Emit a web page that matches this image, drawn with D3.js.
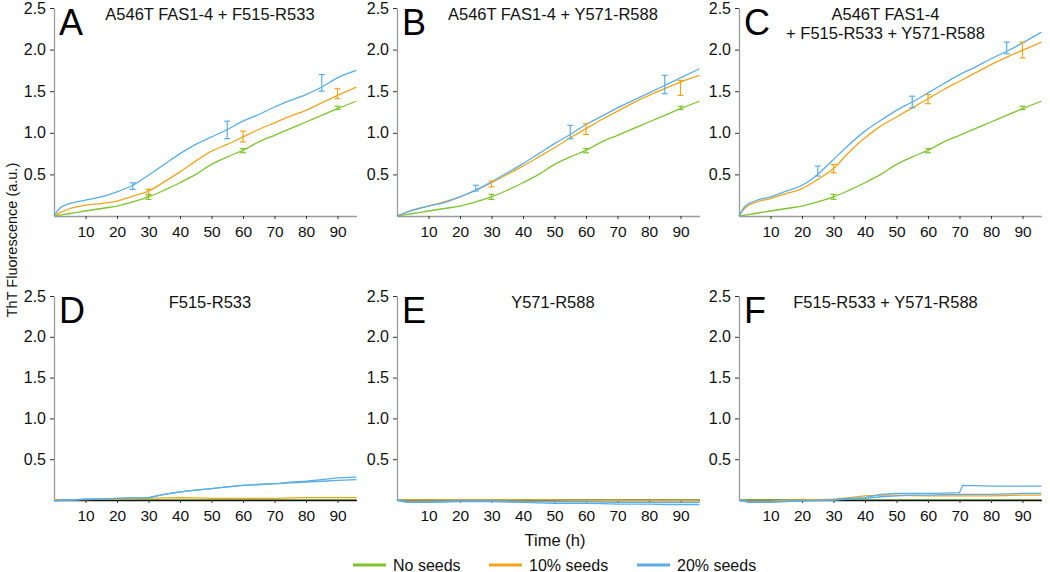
<!DOCTYPE html>
<html><head><meta charset="utf-8">
<script src="https://cdn.jsdelivr.net/npm/d3@7"></script>
<style>body{margin:0;background:#fff;} svg{display:block;font-family:"Liberation Sans",Arial,Helvetica,sans-serif;}</style>
</head><body>
<svg id="c" width="1050" height="572"></svg>
<script>
// ---------- DATA ----------
const timesTop = [0,2,5,10,15,20,25,30,35,40,45,50,55,60,65,70,75,80,85,90,96];
const timesBottom = [0,3,6,10,15,20,25,30,35,40,45,50,55,60,65,70,71,75,80,85,90,96];

const noSeedsTop = [0,0.01,0.03,0.06,0.09,0.12,0.17,0.23,0.31,0.40,0.50,0.62,0.71,0.79,0.89,0.97,1.05,1.13,1.21,1.29,1.38];
const aOrange = [0,0.04,0.09,0.13,0.15,0.18,0.24,0.30,0.41,0.53,0.66,0.78,0.86,0.95,1.04,1.12,1.20,1.27,1.36,1.45,1.55];
const aBlue   = [0,0.10,0.15,0.19,0.23,0.29,0.37,0.49,0.62,0.75,0.86,0.95,1.04,1.14,1.22,1.31,1.39,1.46,1.55,1.66,1.75];
const bOrange = [0,0.03,0.07,0.12,0.17,0.23,0.31,0.40,0.50,0.60,0.71,0.82,0.94,1.05,1.16,1.26,1.36,1.45,1.53,1.61,1.69];
const bBlue   = [0,0.03,0.07,0.12,0.16,0.23,0.31,0.41,0.52,0.63,0.75,0.87,0.98,1.10,1.20,1.30,1.39,1.48,1.57,1.66,1.77];
const cOrange = [0,0.10,0.16,0.21,0.27,0.33,0.44,0.57,0.77,0.94,1.08,1.19,1.30,1.41,1.52,1.62,1.72,1.82,1.91,1.99,2.09];
const cBlue   = [0,0.12,0.18,0.23,0.30,0.37,0.50,0.68,0.86,1.02,1.15,1.27,1.37,1.48,1.59,1.70,1.79,1.89,1.98,2.08,2.21];

const noSeedsBottom = [0,0,0,0,0,0,0,0,0,0,0,0,0,0,0,0,0,0,0,0,0,0];
const dOrange = [0,0,0.005,0.005,0.01,0.01,0.015,0.02,0.025,0.03,0.025,0.02,0.02,0.02,0.02,0.02,0.02,0.025,0.03,0.03,0.03,0.03];
const dBlue1  = [-0.01,0,0,0.01,0.015,0.02,0.025,0.03,0.07,0.10,0.12,0.14,0.16,0.18,0.19,0.20,0.20,0.22,0.23,0.25,0.27,0.28];
const dBlue2  = [-0.01,0,0,0.01,0.015,0.02,0.025,0.03,0.07,0.10,0.12,0.14,0.16,0.18,0.19,0.20,0.20,0.21,0.22,0.23,0.24,0.25];
const eOrange = [0,0,0,0,0,0,0,0,0,0,0,0,-0.005,-0.005,-0.005,-0.005,-0.005,-0.005,-0.005,-0.005,-0.005,-0.005];
const eBlue1  = [0,-0.03,-0.03,-0.03,-0.025,-0.02,-0.02,-0.02,-0.025,-0.03,-0.035,-0.04,-0.04,-0.04,-0.045,-0.05,-0.05,-0.05,-0.05,-0.055,-0.055,-0.055];
const eBlue2  = [0,-0.02,-0.02,-0.02,-0.015,-0.01,-0.01,-0.01,-0.015,-0.02,-0.02,-0.02,-0.02,-0.02,-0.025,-0.03,-0.03,-0.03,-0.03,-0.03,-0.03,-0.03];
const fOrange = [0,-0.01,-0.01,-0.01,-0.005,0,0.005,0.01,0.03,0.05,0.06,0.06,0.055,0.05,0.05,0.05,0.05,0.05,0.05,0.055,0.06,0.06];
const fBlue1  = [0,-0.03,-0.03,-0.03,-0.02,-0.01,-0.005,0,0.02,0.03,0.07,0.08,0.08,0.08,0.085,0.09,0.18,0.175,0.17,0.17,0.17,0.17];
const fBlue2  = [0,-0.02,-0.02,-0.02,-0.015,-0.01,-0.005,0,0.01,0.02,0.04,0.05,0.06,0.06,0.065,0.07,0.07,0.07,0.07,0.075,0.08,0.08];

// error bars: [series, time, low, high]
const errA = [["blue",25,0.32,0.40],["blue",55,0.93,1.14],["blue",85,1.50,1.70],
              ["orange",30,0.24,0.32],["orange",60,0.89,1.02],["orange",90,1.41,1.53],
              ["green",30,0.20,0.26],["green",60,0.76,0.81],["green",90,1.28,1.32]];
const errB = [["blue",25,0.30,0.37],["blue",55,0.93,1.09],["blue",85,1.47,1.69],
              ["orange",30,0.35,0.42],["orange",60,0.98,1.11],["orange",90,1.45,1.63],
              ["green",30,0.20,0.26],["green",60,0.76,0.81],["green",90,1.28,1.32]];
const errC = [["blue",25,0.48,0.60],["blue",55,1.30,1.44],["blue",85,1.95,2.09],
              ["orange",30,0.52,0.62],["orange",60,1.35,1.46],["orange",90,1.90,2.09],
              ["green",30,0.20,0.26],["green",60,0.76,0.81],["green",90,1.28,1.32]];

const panelLetters = ["A","B","C","D","E","F"];
const panelTitles = [["A546T FAS1-4 + F515-R533"],["A546T FAS1-4 + Y571-R588"],["A546T FAS1-4","+ F515-R533 + Y571-R588"],
                     ["F515-R533"],["Y571-R588"],["F515-R533 + Y571-R588"]];
const xTicks = [10,20,30,40,50,60,70,80,90];
const yTicks = [0.5,1.0,1.5,2.0,2.5];
const legendLabels = ["No seeds","10% seeds","20% seeds"];
const yLabel = "ThT Fluorescence (a.u.)";
const xLabel = "Time (h)";

// ---------- STYLE ----------
const colors = {green:"#7cc52f", orange:"#efa51c", blue:"#5aaee8"};
const panels = [
  {x0:54, y0:216, yTop:8, times:timesTop, series:[["green",noSeedsTop],["orange",aOrange],["blue",aBlue]], err:errA, top:true},
  {x0:397, y0:216, yTop:8, times:timesTop, series:[["green",noSeedsTop],["orange",bOrange],["blue",bBlue]], err:errB, top:true},
  {x0:739, y0:216, yTop:8, times:timesTop, series:[["green",noSeedsTop],["orange",cOrange],["blue",cBlue]], err:errC, top:true},
  {x0:54, y0:500, yTop:296, times:timesBottom, series:[["green",noSeedsBottom],["orange",dOrange],["blue",dBlue1],["blue",dBlue2]], err:[], top:false},
  {x0:397, y0:500, yTop:296, times:timesBottom, series:[["green",noSeedsBottom],["orange",eOrange],["blue",eBlue1],["blue",eBlue2]], err:[], top:false},
  {x0:739, y0:500, yTop:296, times:timesBottom, series:[["green",noSeedsBottom],["orange",fOrange],["blue",fBlue1],["blue",fBlue2]], err:[], top:false},
];
const pxPer10 = 31.5;

const svg = d3.select("#c");

panels.forEach((p,i)=>{
  const x = d3.scaleLinear().domain([0,96]).range([p.x0, p.x0 + 9.6*pxPer10]);
  const y = d3.scaleLinear().domain([0,2.5]).range([p.y0, p.yTop]);
  const g = svg.append("g");
  const line = d3.line().x((d,k)=>x(p.times[k])).y(d=>y(d))
     .curve(p.top ? d3.curveMonotoneX : d3.curveLinear);
  const drawSeries = ([c,vals])=>{
    g.append("path").datum(vals).attr("d",line).attr("fill","none")
      .attr("stroke",colors[c]).attr("stroke-width",1.3);
  };

  // no-seed line first (under the axis in bottom row)
  drawSeries(p.series[0]);

  // x axis
  const xa = g.append("g").attr("transform",`translate(0,${p.y0})`)
    .call(d3.axisBottom(x).tickValues(xTicks).tickSize(3).tickSizeOuter(0));
  xa.select(".domain").attr("stroke", p.top ? "#9a9a9a" : "#111").attr("stroke-width", p.top?1.3:1.6);
  xa.selectAll(".tick line").attr("stroke","#333");
  xa.selectAll("text").attr("font-size",15.5).attr("fill","#111").attr("y",10);

  // y axis
  const ya = g.append("g").attr("transform",`translate(${p.x0},0)`)
    .call(d3.axisLeft(y).tickValues(yTicks).tickFormat(d3.format(".1f")).tickSize(4).tickSizeOuter(0));
  ya.select(".domain").attr("stroke","#9a9a9a").attr("stroke-width",1.3);
  ya.selectAll(".tick line").attr("stroke","#333");
  ya.selectAll("text").attr("font-size",16).attr("fill","#111").attr("x",-8);

  // other series
  p.series.slice(1).forEach(drawSeries);

  // error bars
  p.err.forEach(([c,t,lo,hi])=>{
    const eg = g.append("g").attr("stroke",colors[c]).attr("stroke-width",1.2);
    eg.append("line").attr("x1",x(t)).attr("x2",x(t)).attr("y1",y(lo)).attr("y2",y(hi));
    eg.append("line").attr("x1",x(t)-3).attr("x2",x(t)+3).attr("y1",y(lo)).attr("y2",y(lo));
    eg.append("line").attr("x1",x(t)-3).attr("x2",x(t)+3).attr("y1",y(hi)).attr("y2",y(hi));
  });

  // letter
  g.append("text").attr("x",p.x0+5).attr("y",p.yTop+27).attr("font-size",36).attr("fill","#000").text(panelLetters[i]);
  // title
  panelTitles[i].forEach((t,k)=>{
    g.append("text").attr("x", (i%3===2) ? x(46.5) : x(49.5))
      .attr("y",p.yTop+11.5+k*19).attr("text-anchor","middle").attr("font-size",16.5).attr("fill","#111").text(t);
  });
});

// axis labels
svg.append("text").attr("transform","translate(17,240) rotate(-90)").attr("text-anchor","middle")
  .attr("font-size",14.5).attr("fill","#111").text(yLabel);
svg.append("text").attr("x",555).attr("y",546).attr("text-anchor","middle").attr("font-size",16.5).attr("fill","#111").text(xLabel);

// legend
const legX = [353,489,637];
["green","orange","blue"].forEach((c,k)=>{
  svg.append("line").attr("x1",legX[k]).attr("x2",legX[k]+33).attr("y1",565).attr("y2",565)
    .attr("stroke",colors[c]).attr("stroke-width",3);
  svg.append("text").attr("x",legX[k]+40).attr("y",570.5).attr("font-size",16).attr("fill","#111").text(legendLabels[k]);
});
</script>
</body></html>
